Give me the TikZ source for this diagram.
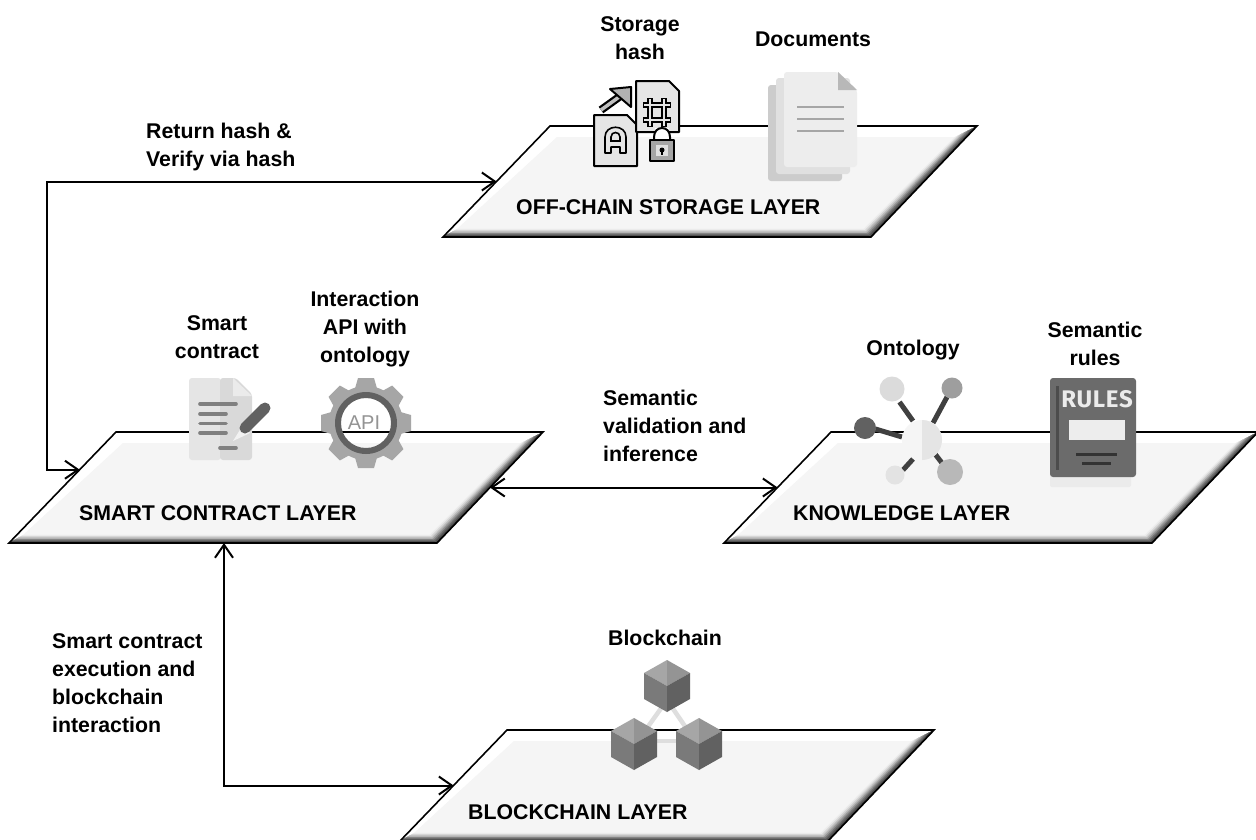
\documentclass[tikz,border=0pt]{standalone}
\usepackage{fontspec}
\setmainfont{Liberation Sans}
\newfontfamily\rulesfont[LetterSpace=3]{Fira Sans}
\usetikzlibrary{shapes.geometric,arrows.meta,calc}
\definecolor{facegray}{HTML}{F5F5F5}
\tikzset{
  lbl/.style={font=\fontsize{21.3pt}{28pt}\selectfont\bfseries,text=black,inner sep=0pt,align=center},
  lblleft/.style={lbl,align=left,anchor=west},
  laylbl/.style={font=\fontsize{21.3pt}{24pt}\selectfont\bfseries,text=black,inner sep=0pt,anchor=west},
  plate/.style={trapezium,trapezium left angle=46,trapezium right angle=134,
    inner sep=0pt,outer sep=0pt,fill=white,anchor=bottom left corner},
  conn/.style={line width=2pt,draw=black,line join=miter},
  biarrow/.style={conn,{Straight Barb[length=13pt,width=18pt]}-{Straight Barb[length=13pt,width=18pt]}},
  iconline/.style={draw=black,line width=2pt,line join=round},
  sheet/.style={rounded corners=3pt}
}
\newcommand{\layerplate}[3]{%
  \node[plate] (#1) at (#2,#3) {\phantom{\rule{427pt}{111pt}}};
  \begin{scope}[shift={(#2,#3)}]
    \coordinate (iTL) at (114,-100); \coordinate (iTR) at (512,-100);
    \coordinate (iBR) at (421,-8);   \coordinate (iBL) at (14,-8);
    \coordinate (oTR) at (534,-111); \coordinate (oBR) at (428,0); \coordinate (oBL) at (0,0);
    \coordinate (#1-right) at (481,-55.5);
    \coordinate (#1-bottom) at (215,0);
    \fill[facegray] (iTL)--(iTR)--(iBR)--(iBL)--cycle;
    \foreach \s/\e/\c in {0/0.15/8,0.15/0.3/16,0.3/0.45/28,0.45/0.6/42,0.6/0.75/56,0.75/0.9/68,0.9/1/78}{
      \filldraw[black!\c,line width=0.2pt] ($(iTR)!\s!(oTR)$)--($(iTR)!\e!(oTR)$)--($(iBR)!\e!(oBR)$)--($(iBR)!\s!(oBR)$)--cycle;
      \filldraw[black!\c,line width=0.2pt] ($(iBL)!\s!(oBL)$)--($(iBL)!\e!(oBL)$)--($(iBR)!\e!(oBR)$)--($(iBR)!\s!(oBR)$)--cycle;
    }
    \draw[black,line width=1.6pt,line join=miter] (oBL)--(107,-111)--(oTR)--(oBR)--cycle;
  \end{scope}}
\newcommand{\cube}[2]{%
  \begin{scope}[shift={(#1,#2)}]
    \fill[black!35] (0,-26)--(-23,-13)--(0,0)--cycle;
    \fill[black!42] (0,-26)--(23,-13)--(0,0)--cycle;
    \fill[black!52] (-23,-13)--(-23,13)--(0,26)--(0,0)--cycle;
    \fill[black!62] (23,-13)--(23,13)--(0,26)--(0,0)--cycle;
  \end{scope}}
\begin{document}
\begin{tikzpicture}[x=1pt,y=-1pt]
\useasboundingbox (0,0) rectangle (1256,839);
\clip (0,0) rectangle (1256,839);
\fill[white] (0,0) rectangle (1256,839);

% plates
\layerplate{offchain}{443}{237}
\layerplate{contract}{9}{543}
\layerplate{knowledge}{724}{543}
\layerplate{blockchain}{400}{841}

% connectors
\coordinate (cl) at ($(contract.bottom left corner)!0.66!(contract.top left corner)$);
\draw[biarrow] (offchain.left side) -- ++(-450,0) |- (cl);
\draw[biarrow] (contract-right) -- (knowledge.left side);
\draw[biarrow] (contract-bottom) |- (blockchain.left side);

% layer labels
\node[laylbl] (t1) at (516,207) {OFF-CHAIN STORAGE LAYER};
\node[laylbl] (t2) at (79,513) {SMART CONTRACT LAYER};
\node[laylbl] (t3) at (793,513) {KNOWLEDGE LAYER};
\node[laylbl] (t4) at (468,812) {BLOCKCHAIN LAYER};

% texts
\node[lblleft] (t5) at (146,146.5) {Return hash \&\\Verify via hash};
\node[lbl] (t6) at (640,38.5) {Storage\\hash};
\node[lbl] (t7) at (813,39) {Documents};
\node[lbl] (t8) at (217,337.5) {Smart\\contract};
\node[lbl] (t9) at (365,329) {Interaction\\API with\\ontology};
\node[lbl] (t10) at (913,350) {Ontology};
\node[lbl] (t11) at (1095,344) {Semantic\\rules};
\node[lblleft] (t12) at (603,426) {Semantic\\validation and\\inference};
\node[lblleft] (t13) at (52,683.5) {Smart contract\\execution and\\blockchain\\interaction};
\node[lbl] (t14) at (665,638) {Blockchain};

% storage hash icon
\draw[black,line width=8pt] (601,110)--(626,92);
\draw[black!25,line width=3.5pt] (601,110)--(626,92);
\filldraw[fill=black!30,iconline] (631,87)--(610,89)--(631,107)--cycle;
\filldraw[fill=black!10,iconline] (594,115)--(627,115)--(637,125)--(637,166)--(594,166)--cycle;
\draw[black,line width=1.6pt,line join=round] (605,153)--(605,137) .. controls (605,124) and (626,124) .. (626,137)--(626,153)--(620,153)--(620,147)--(611,147)--(611,153)--cycle;
\draw[black,line width=1.6pt] (611,141)--(611,137) .. controls (611,131) and (620,131) .. (620,137)--(620,141)--cycle;
\filldraw[fill=black!10,iconline] (636,81)--(669,81)--(679,91)--(679,132)--(636,132)--cycle;
\foreach \a/\b/\c/\d in {650/98/650/127,664/98/664/127,643/105/671/105,643/120/671/120}{
  \draw[black,line width=6pt] (\a,\b)--(\c,\d);}
\foreach \a/\b/\c/\d in {650/99/650/126,664/99/664/126,644/105/670/105,644/120/670/120}{
  \draw[black!10,line width=2.6pt] (\a,\b)--(\c,\d);}
\fill[white] (655,128) rectangle (669,140);
\draw[black,line width=2pt] (654,141)--(654,137) .. controls (654,125) and (670,125) .. (670,137)--(670,141);
\filldraw[fill=black!35,iconline] (650,140) rectangle (674,161);
\fill[black!12] (656,145) rectangle (668,156);
\fill[black] (662,150) circle[radius=2.5pt];
\fill[black] (661,150) rectangle (663,155);

% documents icon
\fill[black!20,sheet] (768,85) rectangle (842,181);
\fill[black!12,sheet] (776,78) rectangle (850,174);
\fill[black!7,sheet] (784,72)--(838,72)--(857,90)--(857,167)--(784,167)--cycle;
\fill[black!28] (838,72)--(857,90)--(838,90)--cycle;
\foreach \yy in {107,119,131}{\draw[black!35,line width=2.4pt] (797,\yy)--(844,\yy);}

% smart contract icon
\fill[black!10,rounded corners=3pt] (189,378) rectangle (221,460);
\fill[black!15,rounded corners=3pt] (220,378)--(236,378)--(252,394)--(252,460)--(220,460)--cycle;
\fill[black!8] (233,378)--(252,396)--(233,396)--cycle;
\draw[black!50,line width=3.6pt,line cap=round] (200,404)--(236,404);
\foreach \yy in {414,423.5,433}{\draw[black!50,line width=3.6pt,line cap=round] (200,\yy)--(226,\yy);}
\draw[black!50,line width=3.6pt,line cap=round] (220,448)--(236,448);
\fill[black!5] (243,425)--(233,441)--(250,433)--cycle;
\draw[black!62,line width=11pt,line cap=round] (265,408)--(245,428);

% API gear
\foreach \a in {0,45,...,315}{
  \fill[black!35,rotate around={\a:(366,423)}] (358,378)--(374,378)--(378,392)--(354,392)--cycle;}
\fill[black!35,even odd rule] (366,423) circle[radius=37pt] (366,423) circle[radius=28pt];
\fill[black!62,even odd rule] (366,423) circle[radius=31pt] (366,423) circle[radius=25pt];
\node[font=\fontsize{20pt}{20pt}\selectfont,text=black!42,inner sep=0pt] (apitxt) at (364,423) {API};

% ontology icon
\foreach \a/\b/\c/\d in {899.5/402/913/421,947/397/933/423,875.5/429/902/437,903/470/913/459,942/463/935/454}{
  \draw[black!75,line width=5pt] (\a,\b)--(\c,\d);}
\fill[black!4] (922,440) circle[radius=20pt];
\begin{scope}\clip (922,415) rectangle (945,465); \fill[black!10] (922,440) circle[radius=20pt]; \end{scope}
\fill[black!14] (892,389) circle[radius=12.5pt];
\fill[black!38] (952,388) circle[radius=10.5pt];
\fill[black!62] (865,428) circle[radius=11pt];
\fill[black!11] (895,475) circle[radius=9.5pt];
\fill[black!28] (950,472) circle[radius=13pt];

% rules book
\fill[black!8,rounded corners=2pt] (1050,474) rectangle (1131,487);
\fill[black!58,rounded corners=3pt] (1050,378) rectangle (1136,477);
\draw[black!70,line width=3pt] (1057,386)--(1057,470);
\node[font=\rulesfont\fontsize{24pt}{24pt}\selectfont\bfseries,text=black!8,inner sep=0pt] (rulestxt) at (1097,399) {RULES};
\fill[black!7] (1069,420) rectangle (1125,440);
\draw[black!80,line width=3pt] (1076,454)--(1117,454);
\draw[black!80,line width=3pt] (1082,463)--(1111,463);

% blockchain icon
\draw[black!13,line width=4.5pt] (667,700)--(642,735);
\draw[black!13,line width=4.5pt] (667,700)--(691,735);
\draw[black!13,line width=4.5pt] (650,741)--(685,741);
\cube{667}{686}
\cube{634}{744}
\cube{699}{744}
\end{tikzpicture}
\end{document}
